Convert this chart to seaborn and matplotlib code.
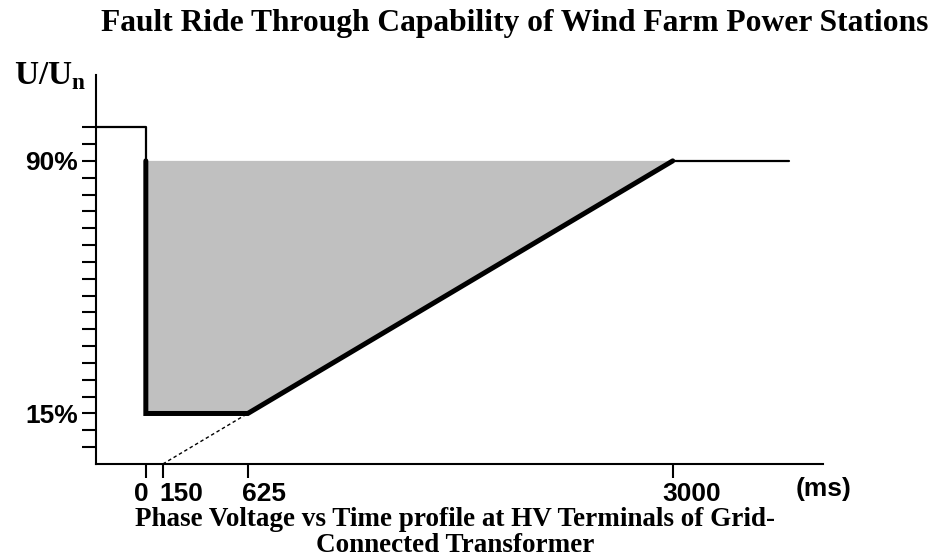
"""Fault ride through envelope for wind farm power stations (schematic)."""
import matplotlib
matplotlib.use("Agg")
import matplotlib.pyplot as plt
import numpy as np
import pandas as pd
import seaborn as sns
from matplotlib.transforms import ScaledTranslation

# ── Data ──────────────────────────────────────────────────────────────────────
# boundary of the must-stay-connected zone (ms, % of Un)
frt_time = [0, 0, 625, 3000]
frt_volt = [90, 15, 15, 90]

# pre-fault and post-recovery voltage
pre_time = [-440, 0, 0]
pre_volt = [100, 100, 90]
post_time = [3000, 3650]
post_volt = [90, 90]

# extrapolation of the recovery ramp down to zero voltage
ext_time = [150, 625]
ext_volt = [0, 15]

x_ticks = [0, 150, 625, 3000]
y_major = [15, 90]
y_minor = [5, 10, 20, 25, 30, 35, 40, 45, 50, 55, 60, 65, 70, 75, 80, 85, 95, 100]

TITLE = "Fault Ride Through Capability of Wind Farm Power Stations"
XLABEL_LINES = ["Phase Voltage vs Time profile at HV Terminals of Grid-",
                "Connected Transformer"]

# the drawing is schematic: the 0..150 ms stretch is compressed
K = 0.633


def fwd(x):
    x = np.asarray(x, dtype=float)
    return np.where(x < 150, 150 + (x - 150) * K, x)


def inv(u):
    u = np.asarray(u, dtype=float)
    return np.where(u < 150, 150 + (u - 150) / K, u)


sns.set_style("white")
plt.rcParams["text.color"] = "black"
plt.rcParams["mathtext.fontset"] = "custom"
plt.rcParams["mathtext.bf"] = "Liberation Serif:bold"
plt.rcParams["mathtext.rm"] = "Liberation Serif:bold"

fig = plt.figure(figsize=(9.32, 5.58), dpi=100)
ax = fig.add_axes([96 / 932, (558 - 464) / 558, (823 - 96) / 932, (464 - 75) / 558])
ax.set_xscale("function", functions=(fwd, inv))

ax.fill(frt_time, frt_volt, color="#c0c0c0", lw=0, zorder=1)

df_pre = pd.DataFrame({"t": pre_time, "u": pre_volt})
df_post = pd.DataFrame({"t": post_time, "u": post_volt})
df_frt = pd.DataFrame({"t": frt_time, "u": frt_volt})
df_ext = pd.DataFrame({"t": ext_time, "u": ext_volt})

for d in (df_pre, df_post):
    sns.lineplot(data=d, x="t", y="u", sort=False, estimator=None,
                 color="black", lw=1.6, ax=ax, zorder=3)
sns.lineplot(data=df_frt, x="t", y="u", sort=False, estimator=None,
             color="black", lw=3.6, ax=ax, zorder=4)
ax.lines[-1].set_solid_joinstyle("miter")
sns.lineplot(data=df_ext, x="t", y="u", sort=False, estimator=None,
             color="black", lw=1.0, ax=ax, zorder=2)
ax.lines[-1].set_linestyle((0, (2.5, 2)))

ax.set_xlim(-440, 3840)
ax.set_ylim(0, 115.5)

for s in ("top", "right"):
    ax.spines[s].set_visible(False)
for s in ("left", "bottom"):
    ax.spines[s].set_linewidth(1.5)
    ax.spines[s].set_color("black")

ax.set_xticks(x_ticks)
ax.set_xticklabels([str(v) for v in x_ticks])
ax.xaxis.set_minor_locator(matplotlib.ticker.NullLocator())
ax.set_yticks(y_major)
ax.set_yticklabels([f"{v}%" for v in y_major])
ax.set_yticks(y_minor, minor=True)
ax.tick_params(which="both", direction="out", length=10, width=1.5,
               color="black", left=True, bottom=True, labelcolor="black")
ax.tick_params(axis="x", pad=3)
ax.tick_params(axis="y", pad=3)
for lab in ax.get_xticklabels() + ax.get_yticklabels():
    lab.set_fontfamily("Liberation Sans")
    lab.set_fontweight("bold")
    lab.set_fontsize(19)

# labels in the source sit a little right of their ticks (pixels)
label_shift = [-5, 18, 16, 19]
for lab, dx in zip(ax.get_xticklabels(), label_shift):
    lab.set_transform(lab.get_transform()
                      + ScaledTranslation(dx / 100, 0, fig.dpi_scale_trans))

ax.set_xlabel("")
ax.set_ylabel("")

fig.text(824 / 932, 1 - 489 / 558, "(ms)", ha="center", va="center",
         fontsize=19, fontweight="bold", family="Liberation Sans")
fig.text(14 / 932, 1 - 76 / 558, r"U/U$_{\mathbf{n}}$", ha="left", va="center",
         fontsize=24, fontweight="bold", family="Liberation Serif")
fig.text(515 / 932, 1 - 24 / 558, TITLE, ha="center", va="center",
         fontsize=22.7, fontweight="bold", family="Liberation Serif")
for line, ypx in zip(XLABEL_LINES, (520, 545)):
    fig.text(455 / 932, 1 - ypx / 558, line, ha="center", va="center",
             fontsize=19.5, fontweight="bold", family="Liberation Serif")

fig.savefig("out.png", dpi=100)
